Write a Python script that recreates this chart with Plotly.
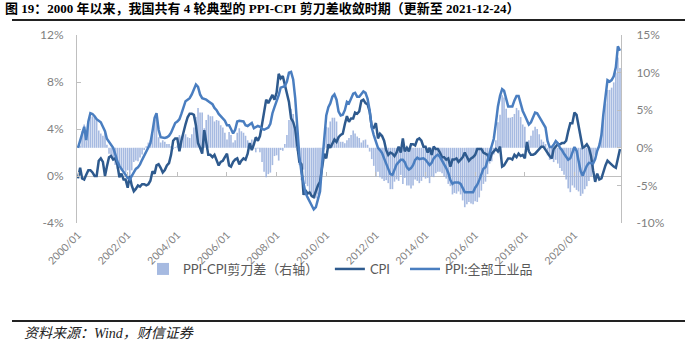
import pandas as pd
import plotly.graph_objects as go

# ---------------- data (monthly YoY %, 2000/01 - 2021/11) ----------------
cpi = [
    -0.2, 0.7, -0.2, -0.3, 0.1, 0.5, 0.5, 0.3, 0.0, 0.0, 1.3, 1.5,      # 2000
    1.2, 0.0, 0.8, 1.6, 1.7, 1.4, 1.5, 1.0, -0.1, 0.2, -0.3, -0.3,      # 2001
    -1.0, 0.0, -0.8, -1.3, -1.1, -0.8, -0.9, -0.7, -0.7, -0.8, -0.7, -0.4,  # 2002
    0.4, 0.2, 0.9, 1.0, 0.7, 0.3, 0.5, 0.9, 1.1, 1.8, 3.0, 3.2,         # 2003
    3.2, 2.1, 3.0, 3.8, 4.4, 5.0, 5.3, 5.3, 5.2, 4.3, 2.8, 2.4,         # 2004
    1.9, 3.9, 2.7, 1.8, 1.8, 1.6, 1.8, 1.3, 0.9, 1.2, 1.3, 1.6,         # 2005
    1.9, 0.9, 0.8, 1.2, 1.4, 1.5, 1.0, 1.3, 1.5, 1.4, 1.9, 2.8,         # 2006
    2.2, 2.7, 3.3, 3.0, 3.4, 4.4, 5.6, 6.5, 6.2, 6.5, 6.9, 6.5,         # 2007
    7.1, 8.7, 8.3, 8.5, 7.7, 7.1, 6.3, 4.9, 4.6, 4.0, 2.4, 1.2,         # 2008
    1.0, -1.6, -1.2, -1.5, -1.4, -1.7, -1.8, -1.2, -0.8, -0.5, 0.6, 1.9,  # 2009
    1.5, 2.7, 2.4, 2.8, 3.1, 2.9, 3.3, 3.5, 3.6, 4.4, 5.1, 4.6,         # 2010
    4.9, 4.9, 5.4, 5.3, 5.5, 6.4, 6.5, 6.2, 6.1, 5.5, 4.2, 4.1,         # 2011
    4.5, 3.2, 3.6, 3.4, 3.0, 2.2, 1.8, 2.0, 1.9, 1.7, 2.0, 2.5,         # 2012
    2.0, 3.2, 2.1, 2.4, 2.1, 2.7, 2.7, 2.6, 3.1, 3.2, 3.0, 2.5,         # 2013
    2.5, 2.0, 2.4, 1.8, 2.5, 2.3, 2.3, 2.0, 1.6, 1.6, 1.4, 1.5,         # 2014
    0.8, 1.4, 1.4, 1.5, 1.2, 1.4, 1.6, 2.0, 1.6, 1.3, 1.5, 1.6,         # 2015
    1.8, 2.3, 2.3, 2.3, 2.0, 1.9, 1.8, 1.3, 1.9, 2.1, 2.3, 2.1,         # 2016
    2.5, 0.8, 0.9, 1.2, 1.5, 1.5, 1.4, 1.8, 1.6, 1.9, 1.7, 1.8,         # 2017
    1.5, 2.9, 2.1, 1.8, 1.8, 1.9, 2.1, 2.3, 2.5, 2.5, 2.2, 1.9,         # 2018
    1.7, 1.5, 2.3, 2.5, 2.7, 2.7, 2.8, 2.8, 3.0, 3.8, 4.5, 4.5,         # 2019
    5.4, 5.2, 4.3, 3.3, 2.4, 2.5, 2.7, 2.4, 1.7, 0.5, -0.5, 0.2,        # 2020
    -0.3, -0.2, 0.4, 0.9, 1.3, 1.1, 1.0, 0.8, 0.7, 1.5, 2.3,            # 2021
]

ppi = [
    0.0, 1.0, 2.0, 2.8, 1.0, 3.5, 4.6, 4.5, 4.2, 3.8, 3.6, 3.4,         # 2000
    2.8, 2.2, 1.2, 0.8, 0.4, 0.0, -0.8, -1.8, -2.4, -2.8, -3.2, -3.6,   # 2001
    -4.0, -4.2, -3.8, -3.2, -2.8, -2.6, -2.2, -1.6, -1.0, -0.6, 0.0, 0.6,  # 2002
    2.2, 4.0, 4.6, 2.4, 1.4, 1.3, 1.3, 1.4, 1.6, 2.0, 2.8, 3.3,         # 2003
    3.5, 3.8, 4.5, 5.5, 6.2, 6.4, 6.6, 7.1, 7.9, 8.4, 8.1, 7.1,         # 2004
    6.6, 6.5, 6.4, 6.2, 6.0, 5.8, 5.3, 5.0, 4.5, 4.2, 4.0, 3.6,         # 2005
    3.0, 3.0, 2.5, 1.9, 2.4, 3.5, 3.6, 3.5, 3.5, 3.0, 2.9, 3.1,         # 2006
    3.3, 2.6, 2.7, 2.9, 2.8, 2.5, 2.4, 2.6, 2.7, 3.2, 4.6, 5.4,         # 2007
    6.1, 7.0, 8.0, 8.1, 8.2, 8.8, 10.0, 10.1, 9.1, 6.6, 2.0, -1.1,      # 2008
    -3.3, -4.5, -6.0, -6.6, -7.2, -7.8, -8.2, -7.9, -7.0, -5.8, -2.1, 1.7,  # 2009
    4.3, 5.4, 5.9, 6.8, 7.1, 6.4, 4.8, 4.3, 4.4, 5.0, 6.1, 5.9,         # 2010
    6.6, 7.2, 7.3, 6.8, 6.8, 7.1, 7.5, 7.3, 6.5, 5.0, 2.7, 1.7,         # 2011
    0.7, 0.0, -0.3, -0.7, -1.4, -2.1, -2.9, -3.5, -3.6, -2.8, -2.2, -1.9,  # 2012
    -1.6, -1.6, -1.9, -2.6, -2.9, -2.7, -2.3, -1.6, -1.3, -1.5, -1.4, -1.4,  # 2013
    -1.6, -2.0, -2.3, -2.0, -1.4, -1.1, -0.9, -1.2, -1.8, -2.2, -2.7, -3.3,  # 2014
    -4.3, -4.8, -4.6, -4.6, -4.6, -4.8, -5.4, -5.9, -5.9, -5.9, -5.9, -5.9,  # 2015
    -5.3, -4.9, -4.3, -3.4, -2.8, -2.6, -1.7, -0.8, 0.1, 1.2, 3.3, 5.5,  # 2016
    6.9, 7.8, 7.6, 6.4, 5.5, 5.5, 5.5, 6.3, 6.9, 6.9, 5.8, 4.9,         # 2017
    4.3, 3.7, 3.1, 3.4, 4.1, 4.7, 4.6, 4.1, 3.6, 3.3, 2.7, 0.9,         # 2018
    0.1, 0.1, 0.4, 0.9, 0.6, 0.0, -0.3, -0.8, -1.2, -1.6, -1.4, -0.5,   # 2019
    0.1, -0.4, -1.5, -3.1, -3.7, -3.0, -2.4, -2.0, -2.1, -2.1, -1.5, -0.4,  # 2020
    0.3, 1.7, 4.4, 6.8, 9.0, 8.8, 9.0, 9.5, 10.7, 13.5, 12.9,           # 2021
]

# PPI-CPI scissors gap, as defined by the chart legend
spread = [round(p - c, 1) for p, c in zip(ppi, cpi)]

months = pd.date_range("2000-01-01", periods=len(cpi), freq="MS")

left_ticks = [-4, 0, 4, 8, 12]
right_ticks = [-10, -5, 0, 5, 10, 15]

title_text = "图 19：2000 年以来，我国共有 4 轮典型的 PPI-CPI 剪刀差收敛时期（更新至 2021-12-24）"
source_text = "资料来源：Wind，财信证券"
names = ["PPI-CPI剪刀差（右轴）", "CPI", "PPI:全部工业品"]

# ---------------- layout helpers ----------------
W, H = 698, 347
ML, MR, MT, MB = 77, 77, 35, 124
PW, PH = W - ML - MR, H - MT - MB


def fx(px):
    return (px - ML) / PW


def fy(py):
    return 1 - (py - MT) / PH


AX = "#BFBFBF"
TICKF = dict(family="Lato, Liberation Sans, sans-serif", size=12, color="#7F7F7F")
NB = "\u00a0"

fig = go.Figure()
fig.add_trace(go.Bar(x=months, y=spread, name=names[0] + NB * 2, yaxis="y",
                     marker=dict(color="rgba(150,174,220,0.85)", line=dict(width=0))))
fig.add_trace(go.Scatter(x=months, y=cpi, name=names[1] + NB * 3, yaxis="y2", mode="lines",
                         line=dict(color="#2E5A8E", width=2.5)))
fig.add_trace(go.Scatter(x=months, y=ppi, name=names[2], yaxis="y3", mode="lines",
                         line=dict(color="#4A7EC0", width=2.5)))

xr = [months[0] - pd.Timedelta(days=15), months[-1] + pd.Timedelta(days=15)]

fig.update_layout(
    width=W, height=H,
    margin=dict(l=ML, r=MR, t=MT, b=MB, pad=0),
    paper_bgcolor="white", plot_bgcolor="white",
    bargap=0.15,
    showlegend=True,
    legend=dict(orientation="h", x=fx(143), xanchor="left", y=fy(254), yanchor="top",
                font=dict(family="Lato, Noto Sans CJK SC, sans-serif", size=13, color="#595959"),
                itemwidth=30, tracegroupgap=0, bgcolor="rgba(0,0,0,0)"),
    xaxis=dict(type="date", range=xr, tickformat="%Y/%m", dtick="M24", tick0="2000-01-01",
               tickangle=-45, showline=False, ticks="", showgrid=False, zeroline=False,
               tickfont=dict(family="Lato, Liberation Sans, sans-serif", size=10.5, color="#7F7F7F"),
               ticklabelstandoff=3),
    xaxis2=dict(type="date", overlaying="x", matches="x", anchor="free", position=0.25,
                showticklabels=False, ticks="inside", ticklen=4, tickcolor=AX, tickwidth=1,
                dtick="M24", tick0="2000-01-01", showline=False, showgrid=False, zeroline=False),
    yaxis=dict(side="right", range=[-10, 15], tickvals=right_ticks,
               ticktext=[f"{v}%" for v in right_ticks],
               showline=True, linecolor=AX, linewidth=1, ticks="inside", ticklen=4, tickcolor=AX,
               showgrid=False, zeroline=False, tickfont=TICKF, ticklabelstandoff=12),
    yaxis2=dict(side="left", overlaying="y", range=[-4, 12], tickvals=left_ticks,
                ticktext=[f"{v}%" for v in left_ticks],
                showline=True, linecolor=AX, linewidth=1, ticks="inside", ticklen=4, tickcolor=AX,
                showgrid=False, zeroline=True, zerolinecolor=AX, zerolinewidth=1,
                tickfont=TICKF, ticklabelstandoff=10),
    yaxis3=dict(overlaying="y", range=[-10, 15], visible=False),
)

# invisible trace so that the x2 tick-mark axis is drawn
fig.add_trace(go.Scatter(x=[months[0], months[-1]], y=[0, 0], xaxis="x2", yaxis="y2",
                         mode="lines", line=dict(width=0), showlegend=False, hoverinfo="skip"))

# title, rules and source
fig.add_annotation(text="<b>" + title_text + "</b>", xref="paper", yref="paper",
                   x=fx(3), y=fy(9), xanchor="left", yanchor="middle", showarrow=False,
                   font=dict(family="Liberation Serif, Noto Sans CJK SC, serif", size=13, color="black"))
fig.add_shape(type="line", xref="paper", yref="paper", x0=fx(12), x1=fx(685), y0=fy(20), y1=fy(20),
              line=dict(color="#222222", width=2))
fig.add_shape(type="line", xref="paper", yref="paper", x0=fx(12), x1=fx(685), y0=fy(321), y1=fy(321),
              line=dict(color="#222222", width=2))
fig.add_annotation(text="<i>" + source_text + "</i>", xref="paper", yref="paper",
                   x=fx(22), y=fy(333), xanchor="left", yanchor="middle", showarrow=False,
                   font=dict(family="Liberation Serif, Noto Sans CJK SC, serif", size=14, color="#222222"))

fig.write_html("out.html")
